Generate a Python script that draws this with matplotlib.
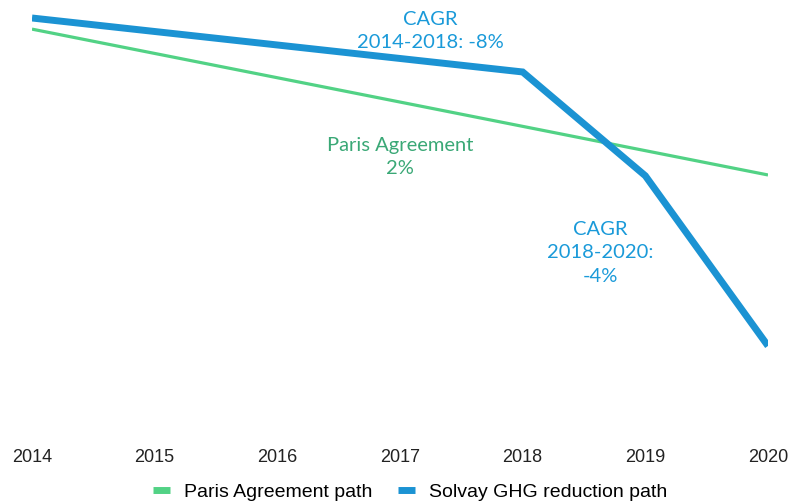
import matplotlib.pyplot as plt

# ------------------------------
# Data (index)
# ------------------------------
paris_years = [2014, 2020]
paris_values = [97.3, 61.9]

solvay_years = [2014, 2018, 2019, 2020]
solvay_values = [100.0, 86.9, 61.7, 20.4]

year_labels = ["2014", "2015", "2016", "2017", "2018", "2019", "2020"]

blue = "#1b93d3"
green = "#52d285"
green_text = "#3aa876"
blue_text = "#1a9ad9"

W, H = 794, 503
fig = plt.figure(figsize=(W / 100, H / 100), dpi=100)
ax = fig.add_axes([32 / W, 1 - 430 / H, (768 - 32) / W, 430 / H])

ax.plot(paris_years, paris_values, color=green, lw=2.3, label="Paris Agreement path",
        solid_capstyle="butt")
ax.plot(solvay_years, solvay_values, color=blue, lw=5.0, label="Solvay GHG reduction path",
        solid_capstyle="butt", solid_joinstyle="miter")

ax.set_xlim(2014, 2020)
ax.set_ylim(0, 430 / 4.12)
ax.set_xticks(range(2014, 2021))
ax.set_xticklabels(year_labels, fontsize=13, family="Liberation Sans", color="#222222")
ax.tick_params(axis="x", length=0, pad=14)
ax.set_yticks([])
for s in ax.spines.values():
    s.set_visible(False)

# Annotations
def px(x, y):
    return x / W, 1 - y / H

fig.text(*px(430, 31), "CAGR\n2014-2018: -8%", ha="center", va="center", color=blue_text,
         fontsize=14.5, family="Lato", linespacing=1.45)
fig.text(*px(400, 157), "Paris Agreement\n2%", ha="center", va="center", color=green_text,
         fontsize=14.5, family="Lato", linespacing=1.45)
fig.text(*px(600, 253), "CAGR\n2018-2020:\n-4%", ha="center", va="center", color=blue_text,
         fontsize=14.5, family="Lato", linespacing=1.45)

leg = fig.legend(loc="center", bbox_to_anchor=(410 / W, 1 - 492 / H), ncol=2, frameon=False,
                 prop={"family": "Liberation Sans", "size": 14}, handlelength=0.9,
                 handletextpad=0.7, columnspacing=1.3)
for h in leg.get_lines():
    h.set_linewidth(5)

fig.savefig("out.png", dpi=100)
